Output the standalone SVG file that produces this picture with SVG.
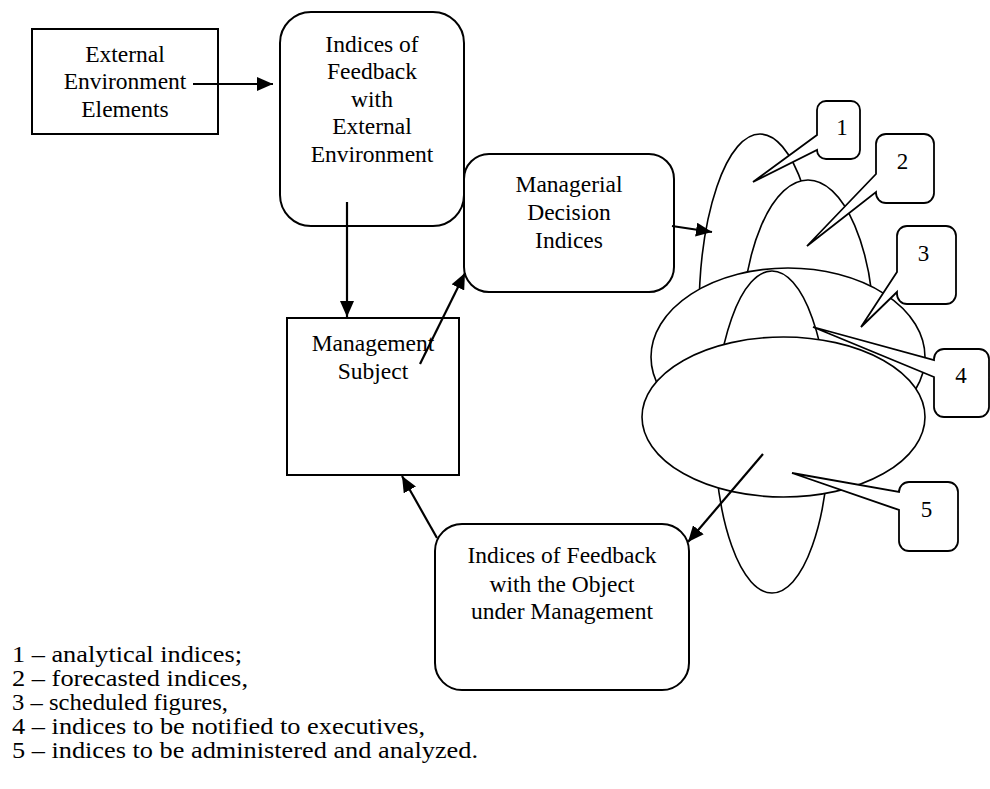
<svg xmlns="http://www.w3.org/2000/svg" width="990" height="789" viewBox="0 0 990 789">
<style>
  .box { fill: #fff; stroke: #000; stroke-width: 2; }
  .ell { fill: #fff; stroke: #000; stroke-width: 1.6; }
  .call { fill: #fff; stroke: #000; stroke-width: 1.8; stroke-linejoin: miter; }
  .t { font-family: "Liberation Serif", "Times New Roman", serif; font-size: 23.5px; fill: #000; text-anchor: middle; }
  .n { font-family: "Liberation Serif", "Times New Roman", serif; font-size: 23px; fill: #000; text-anchor: middle; }
  .leg { font-family: "Liberation Serif", "Times New Roman", serif; font-size: 23px; fill: #000; }
  .arr { fill: none; stroke: #000; stroke-width: 2.2; marker-end: url(#ah); }
</style>
<defs>
  <marker id="ah" markerUnits="userSpaceOnUse" markerWidth="17" markerHeight="14" refX="16" refY="7" orient="auto">
    <path d="M0,0 L16,7 L0,14 Z" fill="#000"/>
  </marker>
</defs>
<rect width="990" height="789" fill="#fff"/>

<g id="node-feedback-external">
  <rect class="box" x="280" y="12" width="184" height="214" rx="31" ry="31"/>
  <text class="t" x="372" y="52">Indices of</text>
  <text class="t" x="372" y="79">Feedback</text>
  <text class="t" x="372" y="107">with</text>
  <text class="t" x="372" y="134">External</text>
  <text class="t" x="372" y="162">Environment</text>
</g>
<g id="node-managerial-decision">
  <rect class="box" x="464" y="154" width="210" height="138" rx="25" ry="25"/>
  <text class="t" x="569" y="192">Managerial</text>
  <text class="t" x="569" y="220">Decision</text>
  <text class="t" x="569" y="248">Indices</text>
</g>
<g id="node-external-elements">
  <rect class="box" x="32" y="29" width="186" height="105"/>
  <text class="t" x="125" y="62">External</text>
  <text class="t" x="125" y="89">Environment</text>
  <text class="t" x="125" y="117">Elements</text>
</g>
<g id="node-management-subject">
  <rect class="box" x="287" y="318" width="172" height="157"/>
  <text class="t" x="373" y="351">Management</text>
  <text class="t" x="373" y="379">Subject</text>
</g>
<g id="node-feedback-object">
  <rect class="box" x="435" y="524" width="254" height="166" rx="27" ry="27"/>
  <text class="t" x="562" y="563">Indices of Feedback</text>
  <text class="t" x="562" y="592">with the Object</text>
  <text class="t" x="562" y="619">under Management</text>
</g>

<g id="node-indices-cluster">
  <ellipse id="ellipse-1" class="ell" cx="760" cy="314" rx="61" ry="180"/>
  <ellipse id="ellipse-2" class="ell" cx="808" cy="335" rx="66" ry="155"/>
  <ellipse id="ellipse-3" class="ell" cx="788" cy="357" rx="137" ry="89"/>
  <ellipse id="ellipse-4" class="ell" cx="772" cy="432" rx="57" ry="161"/>
  <ellipse id="ellipse-5" class="ell" cx="783.5" cy="417" rx="141.5" ry="80"/>
</g>

<g id="callout-1">
  <path class="call" d="M826,101 H851 A9,9 0 0 1 860,110 V150 A9,9 0 0 1 851,159 H826 A9,9 0 0 1 817,150 L753,182 L817,135 V110 A9,9 0 0 1 826,101 Z"/>
  <text class="n" x="842" y="135">1</text>
</g>
<g id="callout-2">
  <path class="call" d="M886,134 H924 A10,10 0 0 1 934,144 V193 A10,10 0 0 1 924,203 H886 A10,10 0 0 1 876,193 V192 L807,246 L876,174 V144 A10,10 0 0 1 886,134 Z"/>
  <text class="n" x="902.5" y="169">2</text>
</g>
<g id="callout-3">
  <path class="call" d="M907,226 H946 A10,10 0 0 1 956,236 V294 A10,10 0 0 1 946,304 H907 A10,10 0 0 1 897,294 V292 L861,327 L897,272 V236 A10,10 0 0 1 907,226 Z"/>
  <text class="n" x="923.5" y="261">3</text>
</g>
<g id="callout-4">
  <path class="call" d="M944,349 H979 A10,10 0 0 1 989,359 V407 A10,10 0 0 1 979,417 H944 A10,10 0 0 1 934,407 V377 L813,327 L934,360 V359 A10,10 0 0 1 944,349 Z"/>
  <text class="n" x="961" y="383">4</text>
</g>
<g id="callout-5">
  <path class="call" d="M909,482 H948 A10,10 0 0 1 958,492 V541 A10,10 0 0 1 948,551 H909 A10,10 0 0 1 899,541 V510 L792,473 L899,492 A10,10 0 0 1 909,482 Z"/>
  <text class="n" x="926.5" y="517">5</text>
</g>

<g id="connectors">
  <path class="arr" d="M193,84 L273,84"/>
  <path class="arr" d="M347,202 L347,317"/>
  <path class="arr" d="M420,364 L465,273"/>
  <path class="arr" d="M672,226 L712,232"/>
  <path class="arr" d="M763,454 L688,542"/>
  <path class="arr" d="M437,538 L402,476"/>
</g>

<g id="legend">
  <text class="leg" x="12" y="662" textLength="230" lengthAdjust="spacingAndGlyphs">1 – analytical indices;</text>
  <text class="leg" x="12" y="686" textLength="236" lengthAdjust="spacingAndGlyphs">2 – forecasted indices,</text>
  <text class="leg" x="12" y="710" textLength="216" lengthAdjust="spacingAndGlyphs">3 – scheduled figures,</text>
  <text class="leg" x="12" y="734" textLength="413" lengthAdjust="spacingAndGlyphs">4 – indices to be notified to executives,</text>
  <text class="leg" x="12" y="758" textLength="466" lengthAdjust="spacingAndGlyphs">5 – indices to be administered and analyzed.</text>
</g>
</svg>
